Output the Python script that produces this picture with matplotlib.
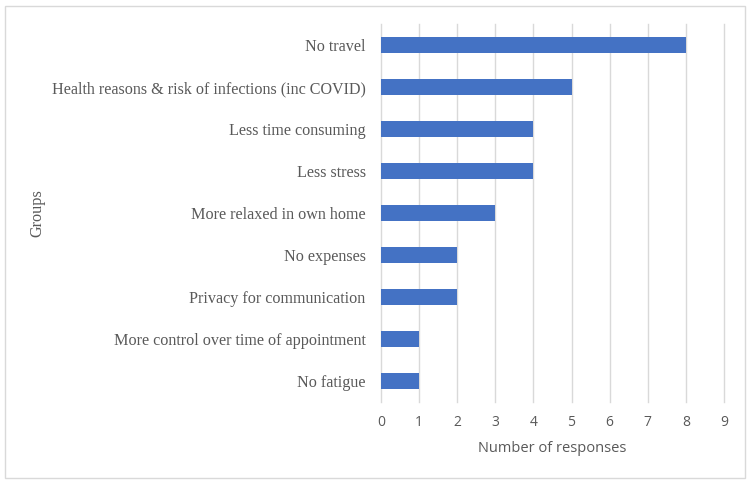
import matplotlib.pyplot as plt
from matplotlib.patches import Rectangle

# Data (bottom to top as drawn)
groups = [
    "No fatigue",
    "More control over time of appointment",
    "Privacy for communication",
    "No expenses",
    "More relaxed in own home",
    "Less stress",
    "Less time consuming",
    "Health reasons & risk of infections (inc COVID)",
    "No travel",
]
responses = [1, 1, 2, 2, 3, 4, 4, 5, 8]
xticks = list(range(0, 10))

BAR_COLOR = "#4472C4"
TEXT_COLOR = "#595959"
GRID_COLOR = "#D9D9D9"

fig = plt.figure(figsize=(7.52, 4.83), dpi=100)
ax = fig.add_axes([381 / 752, 1 - 402 / 483, (724 - 381) / 752, (402 - 24) / 483])

ax.barh(range(len(groups)), responses, height=0.38, color=BAR_COLOR, zorder=3)

ax.set_xlim(0, 9)
ax.set_ylim(-0.5, len(groups) - 0.5)
ax.set_xticks(xticks)
ax.set_yticks(range(len(groups)))
ax.set_yticklabels(groups, family="Liberation Serif", fontsize=11.6, color=TEXT_COLOR)
for lab in ax.get_xticklabels():
    lab.set_family("Open Sans")
    lab.set_fontsize(10)
    lab.set_color(TEXT_COLOR)
ax.tick_params(axis="both", length=0)
ax.tick_params(axis="y", pad=11)
ax.tick_params(axis="x", pad=9)

for x in xticks:
    ax.axvline(x, color=GRID_COLOR, linewidth=1, zorder=0, clip_on=False)
for s in ax.spines.values():
    s.set_visible(False)

ax.set_xlabel("Number of responses", family="Open Sans", fontsize=10.5,
              color=TEXT_COLOR, labelpad=8)
fig.text(37 / 752, 1 - 213 / 483, "Groups", rotation=90, ha="center", va="center",
         family="Liberation Serif", fontsize=11.7, color=TEXT_COLOR)

# outer chart border
fig.patches.append(Rectangle((5 / 752, 5 / 483), 740 / 752, 472 / 483,
                             transform=fig.transFigure, fill=False,
                             edgecolor=GRID_COLOR, linewidth=1))

fig.savefig("out.png", dpi=100)
